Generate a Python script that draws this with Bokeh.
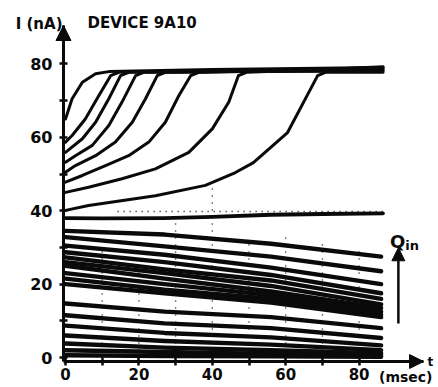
from bokeh.plotting import figure
from bokeh.models import Range1d, FixedTicker, Label, Arrow, NormalHead
from bokeh.embed import file_html
from bokeh.resources import INLINE

# ---------------- data (t in msec, I in nA) ----------------
rise_a_t = [0, 1.8, 4.6, 8.2, 11.8, 40, 86.5]
rise_a_i = [65.0, 70.5, 75.0, 77.3, 77.9, 78.5, 79.0]
rise_b_t = [0, 1.8, 5.4, 9.1, 12.3, 14.5, 40, 86.5]
rise_b_i = [58.7, 60.5, 65.0, 71.4, 76.8, 77.7, 78.2, 78.7]
rise_c_t = [0, 4.6, 8.2, 11.8, 15.0, 17.2, 50, 86.5]
rise_c_i = [55.9, 59.6, 64.1, 70.5, 76.8, 77.7, 78.0, 78.4]
rise_d_t = [0, 2.7, 7.3, 11.8, 15.4, 19.1, 21.3, 50, 86.5]
rise_d_i = [53.2, 55.0, 57.8, 63.2, 69.6, 76.8, 77.7, 77.9, 78.2]
rise_e_t = [0, 2.7, 8.2, 13.6, 18.2, 21.8, 25.0, 27.2, 55, 86.5]
rise_e_i = [50.5, 52.3, 55.0, 58.7, 64.1, 70.5, 76.8, 77.7, 78.0, 78.0]
rise_f_t = [0, 4.6, 10.9, 17.2, 22.7, 27.2, 30.9, 34.1, 36.3, 60, 86.5]
rise_f_i = [47.8, 49.6, 52.3, 55.0, 58.7, 64.1, 71.4, 76.8, 77.7, 78.3, 79.0]
rise_g_t = [0, 6.3, 15.4, 24.5, 33.6, 40.0, 44.5, 47.1, 49.3, 70, 86.5]
rise_g_i = [45.0, 46.4, 48.7, 51.4, 55.9, 62.3, 69.6, 76.8, 77.7, 78.5, 79.2]
rise_h_t = [0, 6.3, 24.5, 38.1, 46.3, 51.2, 60.5, 68.7, 70.8, 80, 86.5]
rise_h_i = [40.1, 41.4, 44.1, 46.9, 50.4, 53.1, 61.3, 76.8, 77.7, 77.8, 77.7]

flat_t = [0, 10, 27, 40, 56, 70, 86.5]
flat_i = [38.0, 37.9, 38.0, 38.3, 38.9, 39.1, 39.3]

low_t = [0, 27, 56, 86]
low_01 = [34.5, 33.5, 31.0, 27.5]
low_02 = [32.8, 30.3, 27.5, 23.5]
low_03 = [30.5, 28.0, 24.5, 20.0]
low_04 = [28.7, 26.0, 22.5, 17.5]
low_05 = [27.3, 24.0, 21.0, 16.0]
low_06 = [26.0, 23.0, 19.5, 14.5]
low_07 = [25.0, 21.5, 18.0, 13.5]
low_08 = [23.0, 20.0, 17.0, 12.5]
low_09 = [21.5, 18.5, 16.0, 11.7]
low_10 = [20.0, 17.5, 15.0, 11.0]
low_11 = [14.7, 12.5, 11.0, 8.0]
low_12 = [11.5, 9.3, 8.0, 5.3]
low_13 = [8.7, 6.7, 5.5, 3.3]
low_14 = [6.0, 4.5, 3.5, 2.0]
low_15 = [3.8, 2.7, 2.0, 1.2]
low_16 = [2.0, 1.5, 1.0, 0.7]
low_17 = [0.6, 0.4, 0.3, 0.2]

dot_h_t = [14.2, 86.6]
dot_h_i = [39.8, 39.8]
grid_t = [10, 20, 30, 40, 50, 60, 70, 80]
grid_top = [30, 28, 37, 47, 32, 33, 32, 30]

x_ticks = [0, 20, 40, 60, 80]
x_minor = [10, 30, 50, 70]
y_ticks = [0, 20, 40, 60, 80]
y_minor = [10, 30, 50, 70]

FONT = "DejaVu Sans"
INK = "#0a0a0a"

# axis extents (t at y-axis, I at x-axis, arrow tips)
T0, I0 = -0.545, -1.09
T_END, I_END = 97.55, 90.46

p = figure(width=438, height=387, x_range=Range1d(-17.71, 101.63),
           y_range=Range1d(-8.17, 97.28), output_backend="svg",
           toolbar_location=None, title=None,
           min_border_left=0, min_border_right=0,
           min_border_top=0, min_border_bottom=0)
p.outline_line_color = None
p.xgrid.visible = False
p.ygrid.visible = False
p.background_fill_color = "white"
p.border_fill_color = "white"

xa = p.xaxis[0]
ya = p.yaxis[0]
xa.fixed_location = I0
ya.fixed_location = T0
xa.bounds = (T0, T_END)
ya.bounds = (I0, I_END)
for ax in (xa, ya):
    ax.axis_line_width = 3
    ax.axis_line_color = INK
    ax.major_tick_line_width = 2.5
    ax.minor_tick_line_width = 2.5
    ax.major_tick_line_color = INK
    ax.minor_tick_line_color = INK
    ax.major_tick_in = 4
    ax.minor_tick_in = 4
    ax.major_tick_out = 4
    ax.minor_tick_out = 4
    ax.major_label_text_font = FONT
    ax.major_label_text_font_style = "bold"
    ax.major_label_text_color = INK

xa.ticker = FixedTicker(ticks=x_ticks, minor_ticks=x_minor)
ya.ticker = FixedTicker(ticks=y_ticks, minor_ticks=y_minor)
xa.major_label_text_font_size = "15px"
xa.major_label_standoff = 2
ya.major_label_text_font_size = "16px"
ya.major_label_standoff = 7

# dotted guides
p.line(dot_h_t, dot_h_i, line_color=INK, line_width=1.6, line_dash="1 5")
p.segment(x0=grid_t, y0=[0] * len(grid_t), x1=grid_t, y1=grid_top,
          line_color=INK, line_width=1.4, line_dash="1 6")

# lower family
lows = [low_01, low_02, low_03, low_04, low_05, low_06, low_07, low_08, low_09,
        low_10, low_11, low_12, low_13, low_14, low_15, low_16, low_17]
for vals in lows:
    p.line(low_t, vals, line_color=INK, line_width=4.4, line_join="round", line_cap="round")

p.line(flat_t, flat_i, line_color=INK, line_width=3.8, line_join="round", line_cap="round")

rises = [(rise_a_t, rise_a_i), (rise_b_t, rise_b_i), (rise_c_t, rise_c_i),
         (rise_d_t, rise_d_i), (rise_e_t, rise_e_i), (rise_f_t, rise_f_i),
         (rise_g_t, rise_g_i), (rise_h_t, rise_h_i)]
for tt, ii in rises:
    p.line(tt, ii, line_color=INK, line_width=3.0, line_join="round", line_cap="round")

# axis arrow heads
p.add_layout(Arrow(end=NormalHead(size=15, fill_color=INK, line_color=INK, line_width=1),
                   x_start=T0, y_start=84, x_end=T0, y_end=I_END,
                   line_width=3, line_color=INK))
p.add_layout(Arrow(end=NormalHead(size=14, fill_color=INK, line_color=INK, line_width=1),
                   x_start=90, y_start=I0, x_end=T_END, y_end=I0,
                   line_width=3, line_color=INK))
# Q_in arrow
p.add_layout(Arrow(end=NormalHead(size=13, fill_color=INK, line_color=INK, line_width=1),
                   x_start=90.7, y_start=9.3, x_end=90.7, y_end=29.9,
                   line_width=2.5, line_color=INK))

def lab(x, y, text, size, align="left", baseline="middle"):
    p.add_layout(Label(x=x, y=y, text=text, text_font=FONT, text_font_style="bold",
                       text_font_size=size, text_color=INK, text_align=align,
                       text_baseline=baseline))

lab(-0.82, 90.87, "I (nA)", "15px", align="right")
lab(5.99, 91.14, "DEVICE 9A10", "15px")
lab(88.4, 31.6, "Q", "18px", baseline="alphabetic")
lab(92.6, 30.4, "in", "13px", baseline="alphabetic")
lab(99.4, -1.1, "t", "12px", align="center")
lab(100.0, -5.2, "(msec)", "14px", align="right")

open("out.html", "w").write(file_html(p, INLINE))
